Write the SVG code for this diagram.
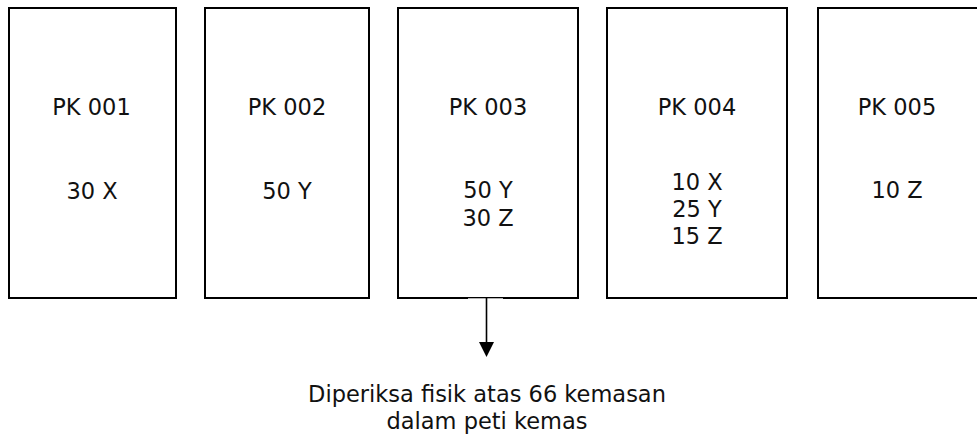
<svg xmlns="http://www.w3.org/2000/svg" width="977" height="437" viewBox="0 0 977 437">
  <style>
    .box { fill: #ffffff; stroke: #000000; stroke-width: 2; }
    .t { font-family: "DejaVu Sans", Verdana, sans-serif; font-size: 22.5px; fill: #111111; text-anchor: middle; }
    .conn { stroke: #000000; stroke-width: 1.6; fill: none; }
  </style>
  <rect width="977" height="437" fill="#ffffff"/>

  <g id="pk001">
    <rect class="box" x="9" y="8" width="167" height="290"/>
    <text class="t" x="91.5" y="115">PK 001</text>
    <text class="t" x="92" y="199">30 X</text>
  </g>
  <g id="pk002">
    <rect class="box" x="205" y="8" width="164" height="290"/>
    <text class="t" x="287" y="115">PK 002</text>
    <text class="t" x="287" y="199">50 Y</text>
  </g>
  <g id="pk003">
    <rect class="box" x="398" y="8" width="180" height="290"/>
    <text class="t" x="488" y="115">PK 003</text>
    <text class="t" x="488" y="198">50 Y</text>
    <text class="t" x="488" y="226">30 Z</text>
  </g>
  <g id="pk004">
    <rect class="box" x="607" y="8" width="180" height="290"/>
    <text class="t" x="697" y="115">PK 004</text>
    <text class="t" x="697" y="190">10 X</text>
    <text class="t" x="697" y="217">25 Y</text>
    <text class="t" x="697" y="244">15 Z</text>
  </g>
  <g id="pk005">
    <rect class="box" x="818" y="8" width="180" height="290"/>
    <text class="t" x="897" y="115">PK 005</text>
    <text class="t" x="897" y="198">10 Z</text>
  </g>

  <g id="connectors">
    <rect x="468" y="298.3" width="35" height="2" fill="#ffffff"/>
    <line class="conn" x1="486.5" y1="298" x2="486.5" y2="344"/>
    <path d="M479,342 L494,342 L486.5,357 Z" fill="#000000"/>
  </g>

  <g id="result">
    <text class="t" x="487" y="402">Diperiksa fisik atas 66 kemasan</text>
    <text class="t" x="487" y="429">dalam peti kemas</text>
  </g>
</svg>
